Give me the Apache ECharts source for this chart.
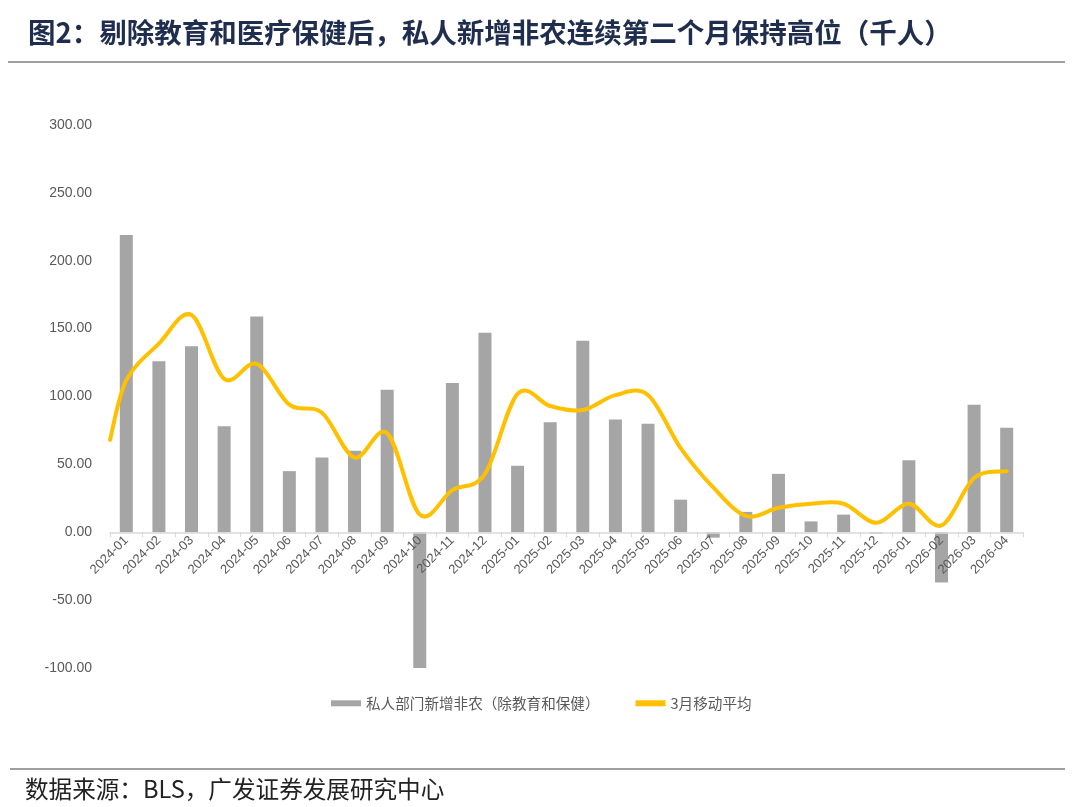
<!DOCTYPE html>
<html><head><meta charset="utf-8">
<script src="https://cdn.jsdelivr.net/npm/echarts@6/dist/echarts.min.js"></script>
<style>html,body{margin:0;padding:0;background:#fff}#c{width:1080px;height:807px}</style>
</head><body><div id="c"></div>
<script>
const categories = ['2024-01','2024-02','2024-03','2024-04','2024-05','2024-06','2024-07','2024-08','2024-09','2024-10','2024-11','2024-12','2025-01','2025-02','2025-03','2025-04','2025-05','2025-06','2025-07','2025-08','2025-09','2025-10','2025-11','2025-12','2026-01','2026-02','2026-03','2026-04'];
const privatePayrolls = [219,126,137,78,159,45,55,60,105,-100,110,147,49,81,141,83,80,24,-4,15,43,8,13,-1,53,-37,94,77];
const movingAvg3 = [112,139,160,113,124,94,88,55,73,13,31,43,102,93,90,101,101,62,33,12,18,21,21,7,21,5,40,45];
const maLeadIn = 68; // line start at left edge of plot
const yTicks = {min:-100, max:300, interval:50};
const barName = '私人部门新增非农（除教育和保健）';
const lineName = '3月移动平均';

const lineData = [[-0.5, maLeadIn]].concat(movingAvg3.map((v,i)=>[i,v]));
const chart = echarts.init(document.getElementById('c'));
const font = '"Liberation Sans", Arial, "Noto Sans CJK SC", sans-serif';
const gridTop = 125, gridBottom = 139, plotH = 807 - gridTop - gridBottom;
const zeroOffset = -plotH * (0 - yTicks.min) / (yTicks.max - yTicks.min);

function smoothPath(pts){
  let d = 'M' + pts[0][0] + ' ' + pts[0][1];
  for (let i = 0; i < pts.length - 1; i++){
    const p0 = pts[Math.max(i-1,0)], p1 = pts[i], p2 = pts[i+1], p3 = pts[Math.min(i+2, pts.length-1)];
    const c1 = [p1[0] + (p2[0]-p0[0])/6, p1[1] + (p2[1]-p0[1])/6];
    const c2 = [p2[0] - (p3[0]-p1[0])/6, p2[1] - (p3[1]-p1[1])/6];
    d += ' C' + c1[0] + ' ' + c1[1] + ' ' + c2[0] + ' ' + c2[1] + ' ' + p2[0] + ' ' + p2[1];
  }
  return d;
}

chart.setOption({
  animation:false,
  textStyle:{fontFamily:font},
  grid:{left:110, right:57, top:gridTop, bottom:gridBottom},
  graphic:[
    {type:'text', left:28, top:19, style:{text:'图2：剔除教育和医疗保健后，私人新增非农连续第二个月保持高位（千人）', fill:'#1F2D4F', font:'bold 27.5px "Noto Sans CJK SC", sans-serif'}},
    {type:'line', shape:{x1:8,y1:62,x2:1065,y2:62}, style:{stroke:'#404040', lineWidth:1.2}},
    {type:'line', shape:{x1:10,y1:769,x2:1065,y2:769}, style:{stroke:'#404040', lineWidth:1.2}},
    {type:'text', left:25, top:777, style:{text:'数据来源：BLS，广发证券发展研究中心', fill:'#222', font:'23.6px "Noto Sans CJK SC", sans-serif'}}
  ],
  legend:{
    left:326, top:691, itemWidth:30, itemHeight:6, itemGap:36,
    textStyle:{color:'#595959', fontSize:14.6, fontFamily:'"Noto Sans CJK SC", sans-serif'},
    data:[{name:barName, icon:'rect'},{name:lineName, icon:'path://M0 0H30V6H0Z'}]
  },
  xAxis:[
    {type:'category', data:categories, offset:zeroOffset, z:5,
     axisLine:{onZero:false, lineStyle:{color:'#D9D9D9', width:1.5}},
     axisTick:{show:true, interval:0, length:5, lineStyle:{color:'#D9D9D9'}},
     axisLabel:{interval:0, rotate:45, color:'#595959', fontSize:13, margin:6, fontFamily:font},
     splitLine:{show:false}},
    {type:'value', min:-0.5, max:27.5, show:false}
  ],
  yAxis:{type:'value', min:yTicks.min, max:yTicks.max, interval:yTicks.interval,
    axisLine:{show:false}, axisTick:{show:false}, splitLine:{show:false},
    axisLabel:{formatter:v=>v.toFixed(2), color:'#595959', fontSize:14, margin:18, fontFamily:font}},
  series:[
    {name:barName, type:'bar', data:privatePayrolls, barWidth:13, xAxisIndex:0,
     itemStyle:{color:'#A5A5A5'}},
    {name:lineName, type:'custom', data:lineData, xAxisIndex:1, yAxisIndex:0,
     itemStyle:{color:'#FFC000'}, z:3,
     renderItem:function(params, api){
       if (params.dataIndex !== 0) return null;
       const pts = lineData.map(p => api.coord(p));
       return {type:'path', shape:{pathData:smoothPath(pts)},
               style:{stroke:'#FFC000', lineWidth:4, fill:null, lineJoin:'round', lineCap:'round'}};
     }}
  ]
});
</script></body></html>
